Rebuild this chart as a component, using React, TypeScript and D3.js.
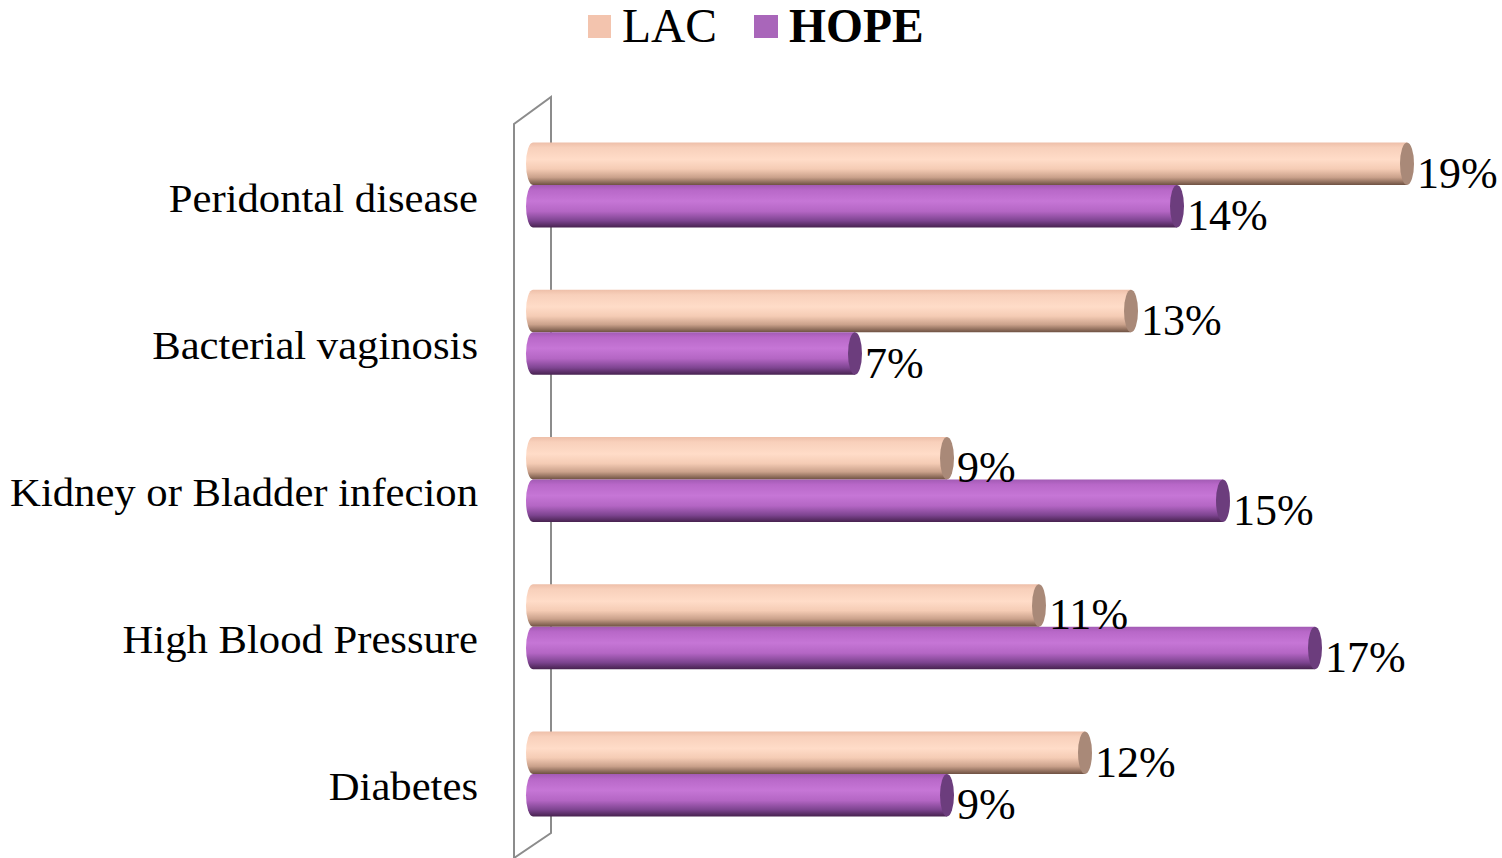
import React from "react";
import * as d3 from "d3";

const categories = ["Peridontal disease", "Bacterial vaginosis", "Kidney or Bladder infecion", "High Blood Pressure", "Diabetes"];
const seriesNames = ["LAC", "HOPE"];
const lacValues = [19, 13, 9, 11, 12];
const hopeValues = [14, 7, 15, 17, 9];

const W = 1502;
const H = 858;

export default function App() {
  const x = d3.scaleLinear().domain([0, 19]).range([533, 1407]);
  const y = d3.scaleBand<string>().domain(categories).range([111.4, 847.6]).padding(0);
  const inner = d3.scaleBand<string>().domain(seriesNames).range([0, 85]).padding(0);
  const barH = inner.bandwidth();
  const rx = 7;
  const font = "'Liberation Serif', 'Times New Roman', serif";

  const cyl = (v: number, top: number, s: number) => {
    const x0 = x(0);
    const x1 = x(v);
    const ry = barH / 2;
    const body = `M${x0},${top} L${x1},${top} L${x1},${top + barH} L${x0},${top + barH} A${rx},${ry} 0 0 1 ${x0},${top} Z`;
    return (
      <g key={s}>
        <path d={body} fill={`url(#grad${s})`} />
        <ellipse cx={x1} cy={top + ry} rx={rx} ry={ry} fill={s === 0 ? "#a98978" : "#6c3d7d"} />
      </g>
    );
  };

  return (
    <svg width={W} height={H} style={{ position: "absolute", left: 0, top: 0, background: "#fff" }}>
      <defs>
        <linearGradient id="grad0" x1="0" y1="0" x2="0" y2="1">
          <stop offset="0" stopColor="#eebfa9" />
          <stop offset="0.12" stopColor="#f8d0bb" />
          <stop offset="0.4" stopColor="#ffdcc8" />
          <stop offset="0.62" stopColor="#f5ccb5" />
          <stop offset="0.82" stopColor="#caa18b" />
          <stop offset="1" stopColor="#6e5142" />
        </linearGradient>
        <linearGradient id="grad1" x1="0" y1="0" x2="0" y2="1">
          <stop offset="0" stopColor="#a25bb4" />
          <stop offset="0.12" stopColor="#b868c8" />
          <stop offset="0.38" stopColor="#c676d6" />
          <stop offset="0.62" stopColor="#b466c4" />
          <stop offset="0.84" stopColor="#7d4490" />
          <stop offset="1" stopColor="#47224f" />
        </linearGradient>
      </defs>

      {/* legend */}
      <rect x={588} y={15} width={23} height={23} fill="#f3c4ae" />
      <text x={622} y={42} fontFamily={font} fontSize={47.5} fill="#000">LAC</text>
      <rect x={754} y={15} width={24} height={23} fill="#a966ba" />
      <text x={789} y={42} fontFamily={font} fontSize={47.5} fontWeight="bold" fill="#000">HOPE</text>

      {/* wall */}
      <g stroke="#8c8c8c" strokeWidth={2} fill="none">
        <path d="M514,858 L514,124 L551,97 L551,833 L514,858" />
      </g>

      {categories.map((c, i) => {
        const y0 = y(c)! + (y.bandwidth() - 85) / 2;
        const cy = y(c)! + y.bandwidth() / 2;
        const vals = [lacValues[i], hopeValues[i]];
        return (
          <g key={c}>
            <text transform={`translate(478,${cy + 26.5}) scale(1.08,1)`} textAnchor="end" fontFamily={font} fontSize={39.5} fill="#000">{c}</text>
            {vals.map((v, s) => cyl(v, y0 + inner(seriesNames[s])!, s))}
            {vals.map((v, s) => (
              <text key={"l" + s} x={x(v) + rx + 3} y={y0 + inner(seriesNames[s])! + barH / 2 + 24} fontFamily={font} fontSize={44} fill="#000">{v}%</text>
            ))}
          </g>
        );
      })}
    </svg>
  );
}
